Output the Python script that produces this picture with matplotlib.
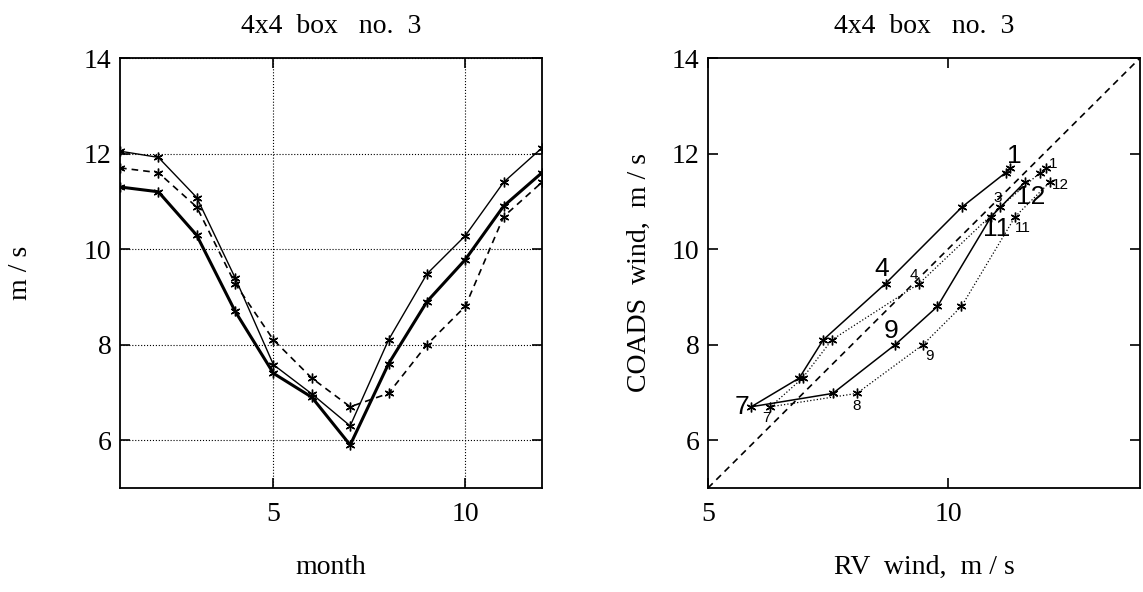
import matplotlib

matplotlib.use("Agg")
import matplotlib.pyplot as plt  # noqa: E402

# monthly means, m/s
months = list(range(1, 13))
rv_thin = [12.05, 11.92, 11.08, 9.40, 7.58, 6.97, 6.30, 8.10, 9.48, 10.28, 11.40, 12.12]
rv_thick = [11.30, 11.20, 10.29, 8.70, 7.40, 6.90, 5.90, 7.60, 8.90, 9.78, 10.90, 11.60]
coads = [11.70, 11.60, 10.88, 9.28, 8.10, 7.30, 6.70, 6.98, 8.00, 8.80, 10.68, 11.40]

# months that get a number next to them in the scatter panel
big_labels = [1, 4, 7, 9, 11, 12]
small_labels = [1, 3, 4, 7, 8, 9, 11, 12]

SERIF = "Liberation Serif"
SANS = "Liberation Sans"
plt.rcParams["font.family"] = SERIF
plt.rcParams["xtick.direction"] = "in"
plt.rcParams["ytick.direction"] = "in"
plt.rcParams["xtick.top"] = True
plt.rcParams["ytick.right"] = True
plt.rcParams["xtick.major.size"] = 7
plt.rcParams["ytick.major.size"] = 7
plt.rcParams["xtick.major.width"] = 1.2
plt.rcParams["ytick.major.width"] = 1.2

W, H = 1143, 592
fig = plt.figure(figsize=(W / 100, H / 100), dpi=100)
ax1 = fig.add_axes([120 / W, (H - 488) / H, 422 / W, 430 / H])
ax2 = fig.add_axes([708 / W, (H - 488) / H, 432 / W, 430 / H])

fs = 20
star = dict(marker=(6, 2, 0), ms=7, mew=1.0)

# left: seasonal cycle
ax1.plot(months, rv_thin, "-", color="k", lw=1.0, **star)
ax1.plot(months, rv_thick, "-", color="k", lw=2.2, **star)
ax1.plot(months, coads, "--", color="k", lw=1.2, dashes=(4, 3), **star)
ax1.set_xlim(1, 12)
ax1.set_ylim(5, 14)
ax1.set_xticks([5, 10])
ax1.set_yticks([6, 8, 10, 12, 14])
ax1.grid(True, ls=":", color="k", lw=0.8)
ax1.set_title("4x4  box   no.  3", fontsize=fs, pad=18)
ax1.set_xlabel("month", fontsize=fs)
ax1.set_ylabel("m / s", fontsize=fs)
ax1.xaxis.set_label_coords(0.5, -0.155)
ax1.yaxis.set_label_coords(-0.205, 0.5)

# right: COADS vs RV
ax2.plot([5, 14], [5, 14], "--", color="k", lw=1.2, dashes=(4, 3))
ax2.plot(rv_thick, coads, "-", color="k", lw=1.1, **star)
ax2.plot(rv_thin, coads, ":", color="k", lw=0.9, **star)
for m in big_labels:
    i = m - 1
    off = {1: (4, 12), 4: (-4, 15), 7: (-9, 0), 9: (-4, 14), 11: (5, -12), 12: (6, -15)}[m]
    ax2.annotate(str(m), (rv_thick[i], coads[i]), xytext=off, textcoords="offset pixels",
                 ha="center", va="center", fontsize=19, family=SANS)
for m in small_labels:
    i = m - 1
    off = {1: (7, 4), 3: (-2, 9), 4: (-5, 9), 7: (-4, -11), 8: (0, -13),
           9: (6, -11), 11: (8, -11), 12: (11, -3)}[m]
    ax2.annotate(str(m), (rv_thin[i], coads[i]), xytext=off, textcoords="offset pixels",
                 ha="center", va="center", fontsize=11, family=SANS)
ax2.set_xlim(5, 14)
ax2.set_ylim(5, 14)
ax2.set_xticks([5, 10])
ax2.set_yticks([6, 8, 10, 12, 14])
ax2.set_title("4x4  box   no.  3", fontsize=fs, pad=18)
ax2.set_xlabel("RV  wind,  m / s", fontsize=fs)
ax2.set_ylabel("COADS  wind,  m / s", fontsize=fs)
ax2.xaxis.set_label_coords(0.5, -0.155)
ax2.yaxis.set_label_coords(-0.13, 0.5)

for ax in (ax1, ax2):
    ax.tick_params(labelsize=fs)
    ax.tick_params(axis="x", pad=10)
    ax.tick_params(axis="y", pad=6)
    for s in ax.spines.values():
        s.set_linewidth(1.3)

fig.savefig("out.png", dpi=100)
